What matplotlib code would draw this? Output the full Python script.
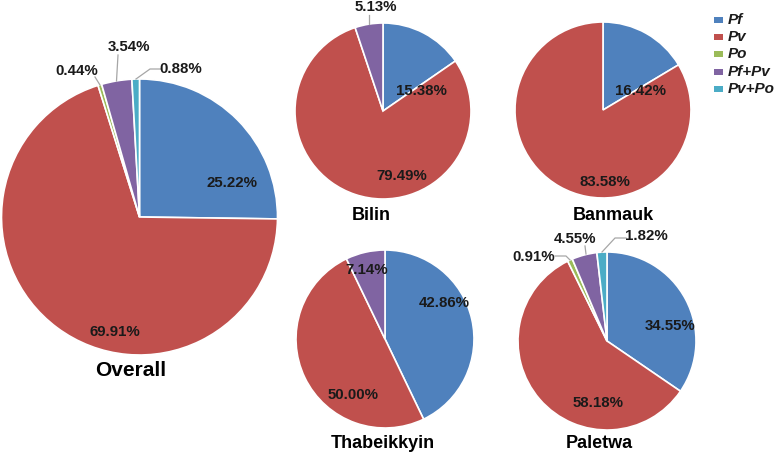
import numpy as np
import matplotlib.pyplot as plt
from matplotlib.patches import Rectangle

plt.rcParams['font.family'] = ['Liberation Sans', 'DejaVu Sans']

# data
species = ["Pf", "Pv", "Po", "Pf+Pv", "Pv+Po"]
colors = ["#4F81BD", "#C0504D", "#9BBB59", "#8064A2", "#4BACC6"]

overall = [25.22, 69.91, 0.44, 3.54, 0.88]
bilin = [15.38, 79.49, 0.0, 5.13, 0.0]
banmauk = [16.42, 83.58, 0.0, 0.0, 0.0]
thabeikkyin = [42.86, 50.00, 0.0, 7.14, 0.0]
paletwa = [34.55, 58.18, 0.91, 4.55, 1.82]

W, H = 778, 455

# layout (pixel coords, y from top)
# name, values, center, radius, title pos, title size, label positions, leader lines
pies = [
    ("Overall", overall, (139.5, 217), 138, (131, 370), 15,
     {0: (232, 183), 1: (115, 332), 2: (77, 71), 3: (129, 47), 4: (181, 69)},
     {2: [(95, 77), (100, 85)], 3: [(118, 55), (116.5, 81)],
      4: [(161, 69), (150, 69), (136, 79)]}),
    ("Bilin", bilin, (383, 111), 88, (371, 215), 13,
     {0: (421, 91), 1: (402, 176), 3: (376, 7)},
     {3: [(369, 15), (369, 24)]}),
    ("Banmauk", banmauk, (603, 110), 88, (613, 215), 13,
     {0: (641, 91), 1: (605, 182)}, {}),
    ("Thabeikkyin", thabeikkyin, (385, 339), 89, (383, 443), 13,
     {0: (444, 303), 1: (353, 395), 3: (367, 270)}, {}),
    ("Paletwa", paletwa, (607, 341), 89, (599, 443), 13,
     {0: (670, 326), 1: (598, 403), 2: (534, 257), 3: (575, 239), 4: (646, 236)},
     {2: [(555, 256), (566, 256), (570, 260)], 3: [(585, 246), (586, 254)],
      4: [(626, 238), (615, 238), (602, 252)]}),
]

fig = plt.figure(figsize=(W / 100, H / 100), dpi=100)
ax = fig.add_axes([0, 0, 1, 1])

for name, vals, (cx, cy), r, (tx, ty), tsize, labpos, leaders in pies:
    idx = [i for i, v in enumerate(vals) if v > 0]
    ax.pie([vals[i] for i in idx], colors=[colors[i] for i in idx],
           startangle=90, counterclock=False, center=(cx, H - cy), radius=r,
           wedgeprops=dict(edgecolor="white", linewidth=1.2))
    for i, (lx, ly) in labpos.items():
        ax.text(lx, H - ly, f"{vals[i]:.2f}%", ha="center", va="center",
                fontsize=10.8, fontweight="bold", color="#1a1a1a")
    for i, pts in leaders.items():
        xs = [p[0] for p in pts]
        ys = [H - p[1] for p in pts]
        ax.plot(xs, ys, color="#a6a6a6", lw=0.9)
    ax.text(tx, H - ty, name, ha="center", va="center", fontsize=tsize,
            fontweight="bold", color="black")

# legend
for k, (sp, c) in enumerate(zip(species, colors)):
    y = 20 + k * 17.2
    ax.add_patch(Rectangle((714, H - y - 3), 9, 6, facecolor=c, edgecolor="none"))
    ax.text(728, H - y, sp, ha="left", va="center", fontsize=11,
            fontweight="bold", fontstyle="italic", color="#1a1a1a")

ax.set_xlim(0, W)
ax.set_ylim(0, H)
ax.set_aspect("equal")
ax.axis("off")

fig.savefig("out.png", dpi=100, facecolor="white")
